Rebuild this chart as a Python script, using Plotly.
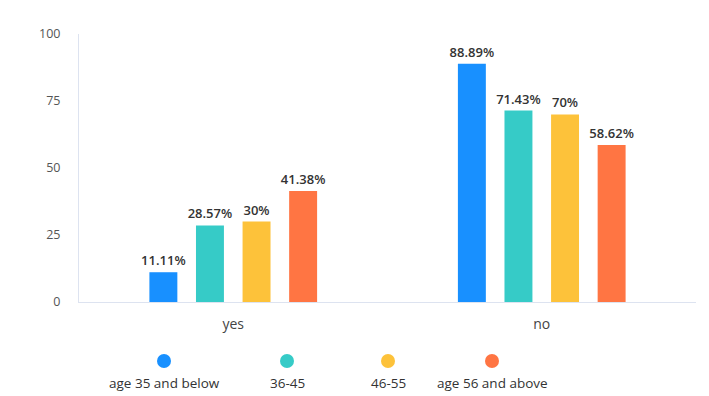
import plotly.graph_objects as go

categories = ["yes", "no"]
series_names = ["age 35 and below", "36-45", "46-55", "age 56 and above"]
values = [
    [11.11, 88.89],
    [28.57, 71.43],
    [30, 70],
    [41.38, 58.62],
]
labels = [
    ["11.11%", "88.89%"],
    ["28.57%", "71.43%"],
    ["30%", "70%"],
    ["41.38%", "58.62%"],
]
colors = ["#1890ff", "#36cbc7", "#fdc23a", "#ff7543"]
y_ticks = [0, 25, 50, 75, 100]

FONT = "Open Sans, Noto Sans, sans-serif"

fig = go.Figure()
for name, vals, labs, col in zip(series_names, values, labels, colors):
    fig.add_trace(go.Bar(
        x=categories, y=vals, name=name, text=labs,
        textposition="outside", cliponaxis=False, constraintext="none",
        textfont=dict(size=13, color="#333333", family=FONT, weight=600),
        marker=dict(color=col, line=dict(width=0)),
        showlegend=False,
    ))

# legend drawn manually: circle markers with labels beneath
leg_x = [164, 287, 388, 492]
W, H = 709, 396
L, R, T, B = 79, 13, 34, 94
pw, ph = W - L - R, H - T - B
shapes = []
annotations = []
for i, (name, col) in enumerate(zip(series_names, colors)):
    cx = (leg_x[i] - L) / pw
    cy = (H - B - 361) / ph
    rx = 7 / pw
    ry = 7 / ph
    shapes.append(dict(type="circle", xref="paper", yref="paper",
                       x0=cx - rx, x1=cx + rx, y0=cy - ry, y1=cy + ry,
                       fillcolor=col, line=dict(width=0)))
    annotations.append(dict(text=name, xref="paper", yref="paper",
                            x=cx, y=(H - B - 383) / ph, showarrow=False,
                            xanchor="center", yanchor="middle",
                            font=dict(size=13.5, color="#333333", family=FONT)))

fig.update_layout(
    width=W, height=H,
    margin=dict(l=L, r=R, t=T, b=B),
    paper_bgcolor="white", plot_bgcolor="white",
    barmode="group", bargap=0.396, bargroupgap=0.4,
    font=dict(family=FONT, color="#555555"),
    shapes=shapes, annotations=annotations,
    xaxis=dict(showgrid=False, showline=True, linecolor="#dde3f0", linewidth=1,
               ticks="", tickfont=dict(size=14, color="#444444"),
               ticklabelstandoff=9),
    yaxis=dict(range=[0, 100], tickvals=y_ticks, showgrid=False, zeroline=False,
               showline=True, linecolor="#dde3f0", linewidth=1, ticks="",
               tickfont=dict(size=12.5, color="#555555"), ticklabelstandoff=15),
)

fig.write_html("out.html", config={"displayModeBar": False},
               post_script="document.body.style.margin='0';")
